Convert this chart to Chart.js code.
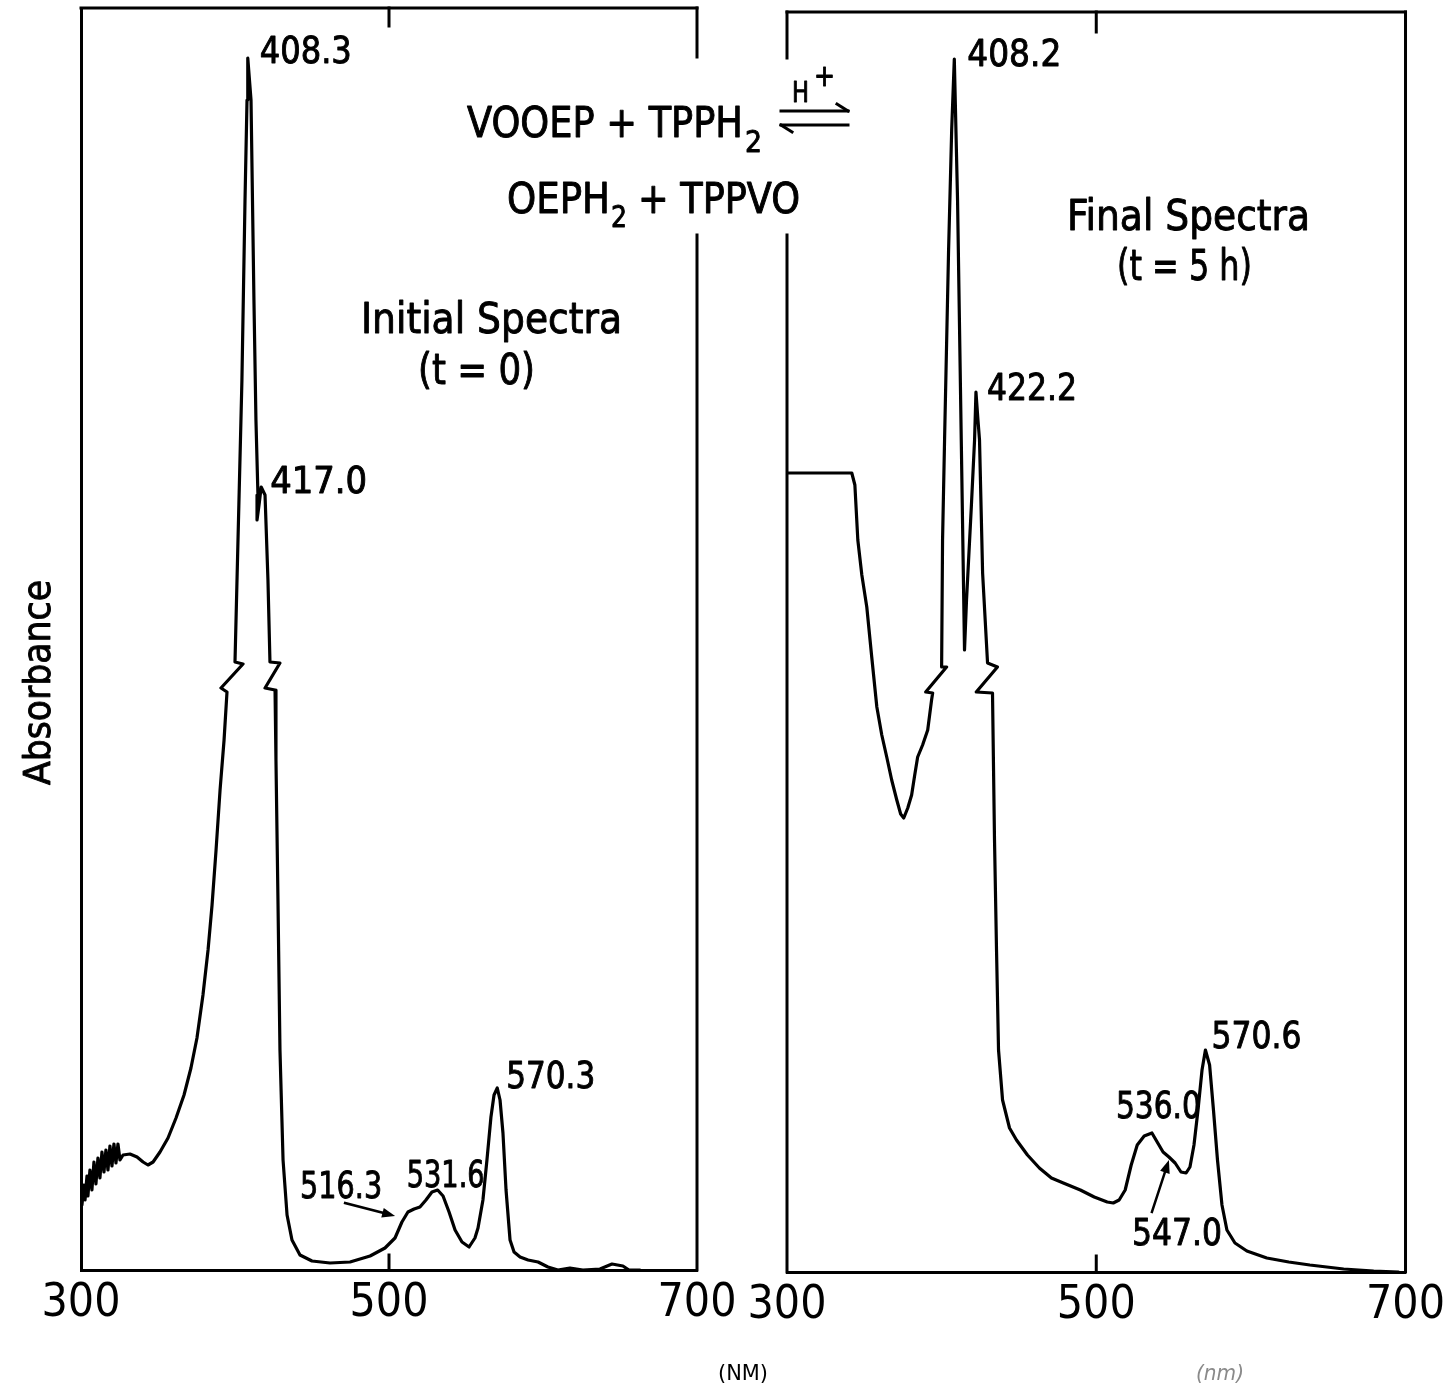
<!DOCTYPE html>
<html>
<head>
<meta charset="utf-8">
<title>VOOEP + TPPH2 spectra</title>
<script src="https://cdn.jsdelivr.net/npm/chart.js@4/dist/chart.umd.min.js"></script>
<style>
  html, body { margin: 0; padding: 0; background: #fff; }
  #wrap { position: relative; width: 1451px; height: 1390px; }
  #wrap canvas { position: absolute; left: 0; top: 0; }
</style>
</head>
<body>
<div id="wrap">
  <canvas id="initial" width="1451" height="1390"></canvas>
  <canvas id="final" width="1451" height="1390"></canvas>
</div>
<script>
// x axis (wavelength, nm)
const xTicks = [300, 500, 700];

// Initial spectra (t = 0): wavelength and absorbance (arbitrary units)
const initialNm = [
  300.6, 301.9, 302.6, 303.9, 304.5, 305.8, 307.1, 308.4, 309.7, 311.0, 312.3, 313.6, 314.9, 316.2, 317.5, 318.8, 320.1, 321.4, 322.7, 324.0, 325.3,
  327.3, 331.8, 336.4, 340.3, 343.5, 346.8, 351.3, 356.5, 361.7, 366.9, 371.4, 375.3, 379.2, 382.5, 385.1, 387.7, 390.3, 392.9, 394.8,
  390.9, 405.2, 400.0,
  404.5, 406.5, 407.8, 408.3,
  410.4, 412.3, 413.6, 414.9, 414.3, 415.6, 417.0, 419.5, 421.4, 422.7,
  429.2, 419.5, 426.0,
  426.6, 427.9, 429.2, 431.2, 433.8, 437.0, 442.2, 450.0, 461.7, 474.7,
  487.7, 497.4, 503.9, 508.4, 512.3, 516.3, 520.1, 524.0, 527.9, 531.6,
  535.1, 539.0, 542.9, 547.4, 552.0, 555.8, 557.8, 561.0, 563.6, 566.2,
  568.2, 570.3, 572.1, 574.0, 576.0, 578.6, 581.2, 585.1, 590.3, 596.8,
  603.2, 609.7, 617.5, 625.9, 637.0, 644.8, 651.9, 655.8, 663.0
];
const initialAbs = [
  6.5, 8.5, 7.0, 9.4, 7.4, 10.0, 8.0, 10.8, 8.6, 11.2, 9.2, 11.8, 9.8, 12.0, 10.0, 12.4, 10.4, 12.6, 10.7, 12.6, 11.0,
  11.5, 11.6, 11.3, 10.8, 10.5, 10.8, 11.8, 13.2, 15.2, 17.5, 20.2, 23.2, 27.5, 32.0, 36.5, 42.0, 48.0, 53.0, 57.8,
  58.2, 60.6, 60.8,
  89.0, 107.0, 117.0, 121.2,
  117.0, 97.0, 85.0, 77.5, 75.0, 76.5, 78.3, 77.5, 69.0, 60.8,
  60.7, 58.2, 58.0,
  51.0, 37.0, 22.0, 11.0, 5.5, 3.0, 1.5, 0.9, 0.7, 0.8,
  1.4, 2.2, 3.2, 4.8, 5.8, 6.1, 6.3, 7.0, 7.8, 8.0,
  7.4, 5.8, 4.0, 2.8, 2.3, 3.2, 4.2, 7.0, 11.0, 15.3,
  17.5, 18.2, 17.0, 13.7, 8.0, 3.0, 1.8, 1.3, 1.0, 0.8,
  0.3, 0.0, 0.2, 0.0, 0.1, 0.6, 0.4, 0.0, 0.0
];
const initialPeaks = [408.3, 417.0, 516.3, 531.6, 570.3];

// Final spectra (t = 5 h)
const finalNm = [
  300.5, 341.9, 343.9, 345.8, 348.4, 351.6, 354.8, 358.1, 361.3, 364.5, 367.7, 371.0, 373.5, 375.5, 378.1, 380.6, 382.6, 384.5, 387.7, 391.0, 393.5, 394.2,
  389.7, 403.2, 400.0,
  400.6, 401.9, 404.5, 406.5, 408.2,
  410.3, 412.7, 413.7, 414.8, 416.1, 419.2, 421.3, 422.2, 423.5, 424.5, 426.5, 429.7,
  436.1, 422.4, 432.9,
  434.2, 435.5, 436.8, 439.4, 443.9, 448.4, 455.5, 463.2, 471.0, 478.7,
  489.7, 498.7, 507.1, 511.0, 514.8, 518.7, 522.6, 526.5, 531.0, 536.0,
  539.4, 543.2, 547.0, 551.0, 554.8, 558.1, 560.6, 563.2, 565.8, 568.4,
  570.6, 573.3, 575.8, 578.4, 581.3, 584.5, 589.7, 597.4, 610.3, 624.5,
  638.1, 660.0, 679.4, 695.5
];
const finalAbs = [
  79.9, 79.9, 78.7, 73.2, 69.7, 66.5, 61.5, 56.5, 53.7, 51.5, 49.2, 47.2, 45.8, 45.4, 46.4, 47.7, 49.7, 51.5, 52.7, 54.2, 57.2, 57.9,
  58.0, 60.5, 60.5,
  73.2, 83.2, 102.2, 114.2, 121.3,
  107.2, 83.2, 73.2, 62.2, 67.2, 76.5, 83.2, 88.0, 85.2, 83.2, 69.9, 60.9,
  60.5, 58.0, 57.9,
  43.2, 32.2, 22.2, 17.2, 14.4, 13.2, 11.7, 10.4, 9.4, 8.9,
  8.2, 7.5, 7.0, 6.9, 7.2, 8.2, 10.7, 12.7, 13.6, 13.9,
  13.0, 12.0, 11.5, 10.9, 10.0, 9.9, 10.5, 12.7, 16.2, 20.2,
  22.2, 20.7, 16.2, 11.2, 6.7, 4.2, 2.9, 2.1, 1.4, 1.0,
  0.7, 0.3, 0.1, 0.0
];
const finalPeaks = [408.2, 422.2, 536.0, 547.0, 570.6];

const FONT = "'Liberation Sans Narrow', 'DejaVu Sans Condensed', 'DejaVu Sans', sans-serif";
Chart.defaults.font.family = FONT;
Chart.defaults.color = '#000';

// label placement relative to the peak point (pixels), fitted width
const initialLabelPos = [
  { dx: 12, dy: 5, w: 92 },
  { dx: 9, dy: 6, w: 97 },
  { dx: -114, dy: -11, w: 82, arrow: [-69, -6, -19, 7] },
  { dx: -31, dy: -3, w: 78 },
  { dx: 9, dy: 0, w: 89 }
];
const finalLabelPos = [
  { dx: 13, dy: 7, w: 94 },
  { dx: 11, dy: 8, w: 90 },
  { dx: -36, dy: -15, w: 85 },
  { dx: -37, dy: 88, w: 90, arrow: [-17, 55, 0, 3] },
  { dx: 6, dy: -2, w: 90 }
];

// text drawn at baseline (x, y), squeezed/stretched to a given width
function fitText(ctx, str, x, y, size, width, opt) {
  opt = opt || {};
  ctx.save();
  ctx.font = (opt.italic ? 'italic ' : '') + size + 'px ' + FONT;
  ctx.fillStyle = opt.color || '#000';
  ctx.strokeStyle = opt.color || '#000';
  ctx.textAlign = 'left';
  ctx.textBaseline = 'alphabetic';
  const m = ctx.measureText(str).width;
  ctx.translate(x, y);
  if (opt.rotate) ctx.rotate(opt.rotate);
  ctx.scale(width / m, 1);
  ctx.fillText(str, 0, 0);
  // the lettering in the figure is a little heavier than the font
  if (!opt.thin) {
    ctx.lineWidth = 0.9;
    ctx.lineJoin = 'round';
    ctx.strokeText(str, 0, 0);
  }
  ctx.restore();
}

function seg(ctx, x1, y1, x2, y2) {
  ctx.beginPath();
  ctx.moveTo(x1, y1);
  ctx.lineTo(x2, y2);
  ctx.stroke();
}

function arrow(ctx, x1, y1, x2, y2) {
  const a = Math.atan2(y2 - y1, x2 - x1);
  ctx.save();
  ctx.lineWidth = 2.5;
  seg(ctx, x1, y1, x2 - 8 * Math.cos(a), y2 - 8 * Math.sin(a));
  ctx.beginPath();
  ctx.moveTo(x2, y2);
  ctx.lineTo(x2 - 13 * Math.cos(a) + 5 * Math.sin(a), y2 - 13 * Math.sin(a) - 5 * Math.cos(a));
  ctx.lineTo(x2 - 13 * Math.cos(a) - 5 * Math.sin(a), y2 - 13 * Math.sin(a) + 5 * Math.cos(a));
  ctx.closePath();
  ctx.fill();
  ctx.restore();
}

function peakLabels(chart, nm, abs, peaks, pos) {
  const ctx = chart.ctx;
  const { x, y } = chart.scales;
  peaks.forEach((p, k) => {
    let i = 0;
    nm.forEach((v, j) => { if (Math.abs(v - p) < Math.abs(nm[i] - p)) i = j; });
    const px = x.getPixelForValue(nm[i]);
    const py = y.getPixelForValue(abs[i]);
    const s = pos[k];
    fitText(ctx, p.toFixed(1), px + s.dx, py + s.dy, 37, s.w);
    if (s.arrow) arrow(ctx, px + s.arrow[0], py + s.arrow[1], px + s.arrow[2], py + s.arrow[3]);
  });
}

const initialDecor = {
  id: 'initialDecor',
  afterDraw(chart) {
    const { ctx, chartArea: a, scales: { x } } = chart;
    ctx.save();
    ctx.strokeStyle = '#000';
    ctx.fillStyle = '#000';
    ctx.lineWidth = 3;
    ctx.lineCap = 'square';
    // frame: top and right side, broken where the equation runs through
    seg(ctx, a.left, a.top, a.right, a.top);
    seg(ctx, a.right, a.top, a.right, 57);
    seg(ctx, a.right, 235, a.right, a.bottom);
    const t = x.getPixelForValue(500);
    seg(ctx, t, a.top, t, a.top + 18);
    seg(ctx, t, a.bottom, t, a.bottom - 15);

    peakLabels(chart, initialNm, initialAbs, initialPeaks, initialLabelPos);

    fitText(ctx, 'Initial Spectra', 361, 333, 43, 261);
    fitText(ctx, '(t = 0)', 418, 384, 43, 117);

    // reaction
    ctx.lineWidth = 3;
    fitText(ctx, 'VOOEP + TPPH', 467, 137, 42, 276);
    fitText(ctx, '2', 745, 152, 30, 17);
    fitText(ctx, 'H', 792, 102, 29, 17);
    fitText(ctx, '+', 814, 86, 30, 21);
    seg(ctx, 781, 111, 848, 111);
    seg(ctx, 848, 111, 837, 104);
    seg(ctx, 781, 125, 848, 125);
    seg(ctx, 781, 125, 792, 132);
    fitText(ctx, 'OEPH', 507, 213, 42, 103);
    fitText(ctx, '2', 611, 227, 30, 16);
    fitText(ctx, '+ TPPVO', 638, 213, 42, 162);

    fitText(ctx, 'Absorbance', 50, 785, 38, 205, { rotate: -Math.PI / 2 });
    fitText(ctx, '(NM)', 718, 1380, 22, 50, { thin: true });
    ctx.restore();
  }
};

const finalDecor = {
  id: 'finalDecor',
  afterDraw(chart) {
    const { ctx, chartArea: a, scales: { x } } = chart;
    ctx.save();
    ctx.strokeStyle = '#000';
    ctx.fillStyle = '#000';
    ctx.lineWidth = 3;
    ctx.lineCap = 'square';
    seg(ctx, a.left, a.top, a.right, a.top);
    seg(ctx, a.right, a.top, a.right, a.bottom);
    seg(ctx, a.left, a.top, a.left, 58);
    seg(ctx, a.left, 235, a.left, a.bottom);
    const t = x.getPixelForValue(500);
    seg(ctx, t, a.top, t, a.top + 20);
    seg(ctx, t, a.bottom, t, a.bottom - 16);

    peakLabels(chart, finalNm, finalAbs, finalPeaks, finalLabelPos);

    fitText(ctx, 'Final Spectra', 1067, 230, 43, 243);
    fitText(ctx, '(t = 5 h)', 1117, 280, 43, 135);
    fitText(ctx, '(nm)', 1196, 1380, 22, 48, { italic: true, color: '#8a8a8a', thin: true });
    ctx.restore();
  }
};

function makeChart(id, nm, abs, yMax, padding, showY, xHeight, decor) {
  return new Chart(document.getElementById(id), {
    type: 'line',
    data: {
      datasets: [{
        data: nm.map((v, i) => ({ x: v, y: abs[i] })),
        borderColor: '#000',
        borderWidth: 3.2,
        borderJoinStyle: 'round',
        borderCapStyle: 'round',
        pointRadius: 0,
        tension: 0,
        fill: false
      }]
    },
    options: {
      responsive: false,
      animation: false,
      events: [],
      layout: { padding },
      plugins: { legend: { display: false }, tooltip: { enabled: false } },
      scales: {
        x: {
          type: 'linear',
          min: 300,
          max: 700,
          afterBuildTicks: (s) => { s.ticks = xTicks.map(v => ({ value: v })); },
          afterFit: (s) => { s.height = xHeight; },
          grid: { display: false, drawTicks: false },
          border: { display: true, color: '#000', width: 3 },
          ticks: { color: '#000', font: { size: 46 }, padding: 6, maxRotation: 0, autoSkip: false, callback: v => String(v) }
        },
        y: {
          min: 0,
          max: yMax,
          display: showY,
          afterFit: (s) => { s.width = showY ? 81 : 0; },
          ticks: { display: false },
          grid: { display: false },
          border: { display: true, color: '#000', width: 3 }
        }
      }
    },
    plugins: [decor]
  });
}

makeChart('initial', initialNm, initialAbs, 126.2, { left: 0, top: 8, right: 754, bottom: 0 }, true, 120, initialDecor);
makeChart('final', finalNm, finalAbs, 126.0, { left: 787, top: 12, right: 44, bottom: 0 }, false, 118, finalDecor);
</script>
</body>
</html>
